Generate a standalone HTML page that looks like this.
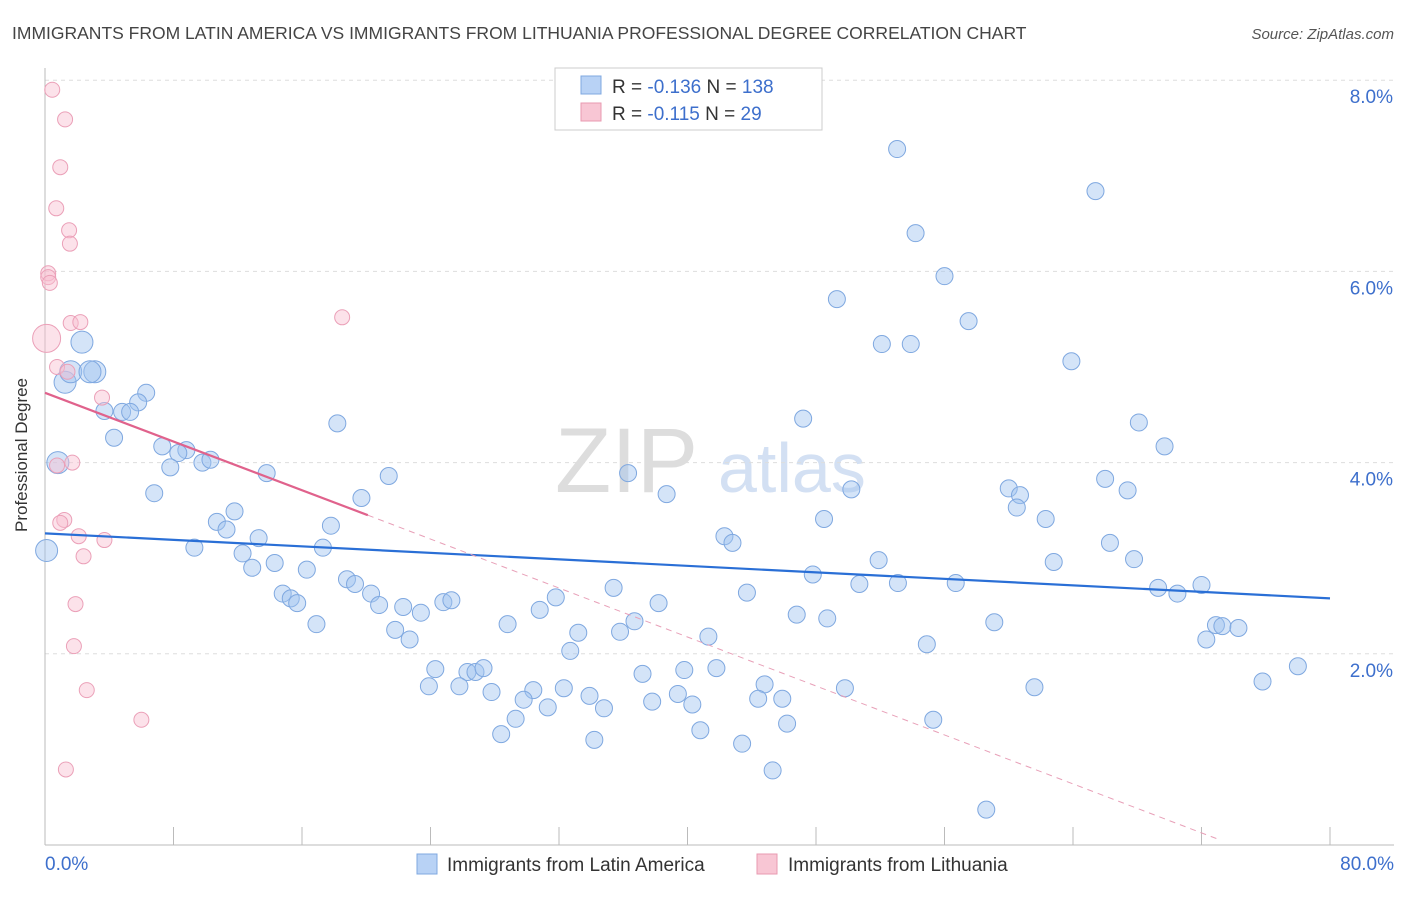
<!DOCTYPE html>
<html><head><meta charset="utf-8"><style>
body{margin:0;background:#fff;font-family:"Liberation Sans",sans-serif}
svg text{font-family:"Liberation Sans",sans-serif}
</style></head><body>
<svg id="c" width="1406" height="892">
<text x="12" y="39" font-size="17.5" fill="#444">IMMIGRANTS FROM LATIN AMERICA VS IMMIGRANTS FROM LITHUANIA PROFESSIONAL DEGREE CORRELATION CHART</text>
<text x="1394" y="39" font-size="15" fill="#555" font-style="italic" text-anchor="end">Source: ZipAtlas.com</text>
<g><text x="555" y="492" font-size="92" fill="#ddd" font-family="Liberation Serif">ZIP</text><text x="718" y="492" font-size="70" fill="#d3e0f3">atlas</text></g>
<g id="grid"></g><g id="marks"></g>
<text x="27" y="455" font-size="17" fill="#333" text-anchor="middle" transform="rotate(-90 27 455)">Professional Degree</text>
<g>
<rect x="555" y="68" width="267" height="62" fill="#fff" stroke="#ccc"/>
<rect x="581" y="76" width="20" height="18" fill="#b8d2f5" stroke="#7fa8e0"/>
<rect x="581" y="103" width="20" height="18" fill="#f8c6d4" stroke="#e89ab0"/>
<text x="612" y="93" font-size="19" fill="#333">R = <tspan fill="#3d6fcc">-0.136</tspan>    N = <tspan fill="#3d6fcc">138</tspan></text>
<text x="612" y="120" font-size="19" fill="#333">R = <tspan fill="#3d6fcc">-0.115</tspan>    N = <tspan fill="#3d6fcc">  29</tspan></text>
</g>
<g>
<rect x="417" y="854" width="20" height="20" fill="#b8d2f5" stroke="#7fa8e0"/>
<text x="447" y="871" font-size="19" fill="#333">Immigrants from Latin America</text>
<rect x="757" y="854" width="20" height="20" fill="#f8c6d4" stroke="#e89ab0"/>
<text x="788" y="871" font-size="19" fill="#333">Immigrants from Lithuania</text>
</g>
</svg>
<script>
const yTicks=[2,4,6,8];
const yTickLabels=["2.0%","4.0%","6.0%","8.0%"];
const xTickLabels=["0.0%","80.0%"];
const blueX=[53.05,65.4,54.2,56.0,49.3,57.5,52.1,53.9,63.9,2.3,1.25,1.6,3.1,2.8,6.3,5.8,3.7,4.8,5.3,4.3,0.8,0.1,18.2,47.2,68.1,69.7,7.3,8.8,8.3,7.8,9.8,10.3,13.8,21.4,36.3,38.7,50.2,66.0,67.4,60.0,60.7,60.5,62.3,6.8,19.7,11.8,10.7,11.3,17.8,48.5,42.3,42.8,13.3,66.3,9.3,17.3,12.3,14.3,12.9,16.3,51.9,62.8,67.8,47.8,18.8,19.3,50.7,53.1,56.7,72.0,35.4,69.3,70.5,14.8,15.3,15.7,20.3,20.8,22.3,23.4,24.8,25.3,31.8,30.8,38.2,43.7,46.8,48.7,16.9,21.8,22.7,28.8,33.2,35.8,36.7,41.3,59.1,72.9,73.3,74.3,72.3,54.9,32.7,24.3,26.3,26.8,27.3,37.2,39.8,41.8,78.0,75.8,23.9,25.8,27.8,30.4,29.8,32.3,33.9,34.8,37.8,39.4,40.3,44.8,44.4,45.9,49.8,61.6,31.3,29.3,28.4,40.8,46.2,55.3,34.2,43.4,45.3,58.6];
const blueY=[7.28,6.84,6.40,5.95,5.71,5.48,5.24,5.24,5.06,5.26,4.84,4.95,4.95,4.95,4.73,4.63,4.54,4.53,4.53,4.26,4.0,3.08,4.41,4.46,4.42,4.17,4.17,4.13,4.10,3.95,4.0,4.03,3.89,3.86,3.89,3.67,3.72,3.83,3.71,3.73,3.66,3.53,3.41,3.68,3.63,3.49,3.38,3.30,3.34,3.41,3.23,3.16,3.21,3.16,3.11,3.11,3.05,2.95,2.90,2.88,2.98,2.96,2.99,2.83,2.78,2.73,2.73,2.74,2.74,2.72,2.69,2.69,2.63,2.63,2.58,2.53,2.63,2.51,2.49,2.43,2.54,2.56,2.59,2.46,2.53,2.64,2.41,2.37,2.31,2.25,2.15,2.31,2.22,2.23,2.34,2.18,2.33,2.30,2.29,2.27,2.15,2.10,2.03,1.84,1.81,1.81,1.85,1.79,1.83,1.85,1.87,1.71,1.66,1.66,1.60,1.62,1.52,1.64,1.56,1.43,1.50,1.58,1.47,1.68,1.53,1.53,1.64,1.65,1.44,1.32,1.16,1.20,1.27,1.31,1.10,1.06,0.78,0.37];
const bigBlue=[9,10,11,12,13,20,21];
const pinkX=[0.45,1.25,0.95,0.7,1.5,1.55,0.2,0.2,0.3,18.5,1.6,2.2,0.1,0.75,1.4,3.55,1.7,0.75,1.2,0.95,2.1,3.7,2.4,1.9,1.8,2.6,6.0,1.3];
const pinkY=[7.90,7.59,7.09,6.66,6.43,6.29,5.98,5.94,5.88,5.52,5.46,5.47,5.30,5.0,4.95,4.68,4.0,3.97,3.40,3.37,3.23,3.19,3.02,2.52,2.08,1.62,1.31,0.79];
const blueTrend=[[0,3.26],[80,2.58]];
const pinkTrend=[[0,4.73],[20.1,3.45]];
const pinkDash=[[20.1,3.45],[73.2,0.05]];
const X=v=>45+v*(1285/80), Y=v=>845-v*95.6;
const NS="http://www.w3.org/2000/svg";
function el(p,t,a){const e=document.createElementNS(NS,t);for(const k in a)e.setAttribute(k,a[k]);p.appendChild(e);return e;}
const g=document.getElementById('grid'),m=document.getElementById('marks');
yTicks.forEach((t,i)=>{
 const l=el(g,'line',{x1:45,x2:1394,y1:Y(t),y2:Y(t),stroke:'#ddd','stroke-dasharray':'4,4'});
 
 
 const tx=el(g,'text',{x:1393,y:Y(t)+23,'font-size':19,fill:'#3d6fcc','text-anchor':'end'});tx.textContent=yTickLabels[i];
 
 
});
const ax=el(g,'line',{x1:45,x2:45,y1:68,y2:845,stroke:'#bbb'});


const bx=el(g,'line',{x1:45,x2:1394,y1:845,y2:845,stroke:'#bbb'});


for(let i=0;i<=10;i++){const t=el(g,'line',{x1:X(i*8),x2:X(i*8),y1:827,y2:845,stroke:'#bbb'});
 
 }
[[0,'start',45],[1,'end',1394]].forEach(([i,a,x])=>{const t=el(g,'text',{x:x,y:870,'font-size':19,fill:'#3d6fcc','text-anchor':a});t.textContent=xTickLabels[i];
 
 });
blueX.forEach((v,i)=>{const c=el(m,'circle',{cx:X(v),cy:Y(blueY[i]),r:bigBlue.includes(i)?11:8.5,fill:'rgba(160,196,240,0.45)',stroke:'#7fa8e0','stroke-width':1});
 
 });
pinkX.forEach((v,i)=>{const c=el(m,'circle',{cx:X(v),cy:Y(pinkY[i]),r:i==12?14:7.5,fill:'rgba(248,190,208,0.45)',stroke:'#eba0b8','stroke-width':1});
 
 });
const bl=el(m,'line',{x1:X(blueTrend[0][0]),y1:Y(blueTrend[0][1]),x2:X(blueTrend[1][0]),y2:Y(blueTrend[1][1]),stroke:'#2a6fd6','stroke-width':2.2});


const pl=el(m,'line',{x1:X(pinkTrend[0][0]),y1:Y(pinkTrend[0][1]),x2:X(pinkTrend[1][0]),y2:Y(pinkTrend[1][1]),stroke:'#e0628c','stroke-width':2.2});


const pd=el(m,'line',{x1:X(pinkDash[0][0]),y1:Y(pinkDash[0][1]),x2:X(pinkDash[1][0]),y2:Y(pinkDash[1][1]),stroke:'#e8a0b8','stroke-width':1,'stroke-dasharray':'6,5'});


</script>
</body></html>
